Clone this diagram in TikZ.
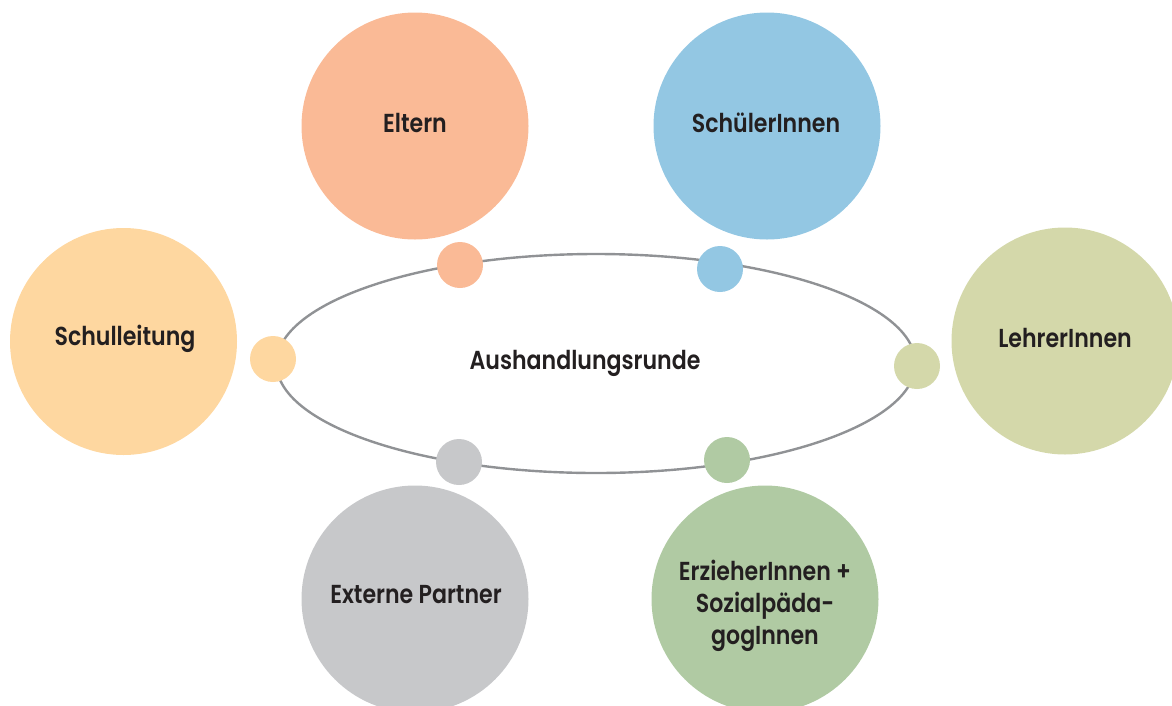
\documentclass[tikz,border=0pt]{standalone}
\usepackage{fontspec}
\setmainfont{Poppins}[UprightFont={* SemiBold}, FakeStretch=0.85]
\usetikzlibrary{shapes.geometric}
\definecolor{celtern}{HTML}{FABA96}
\definecolor{cschueler}{HTML}{93C7E3}
\definecolor{cleitung}{HTML}{FED7A0}
\definecolor{clehrer}{HTML}{D4D8AA}
\definecolor{cextern}{HTML}{C7C8CA}
\definecolor{cerzieher}{HTML}{B0CAA3}
\definecolor{cring}{HTML}{909295}
\definecolor{ctxt}{HTML}{231F20}
\begin{document}
\begin{tikzpicture}[x=1pt,y=-1pt,
  big/.style={circle, minimum size=227pt, inner sep=0pt, fill=#1},
  small/.style={circle, minimum size=46pt, inner sep=0pt, fill=#1},
  lbl/.style={align=center, text=ctxt, inner sep=0pt, font=\fontsize{26}{32}\selectfont},
  ringstyle/.style={ellipse, draw=cring, line width=2.4pt, minimum width=639pt, minimum height=219pt, inner sep=0pt}
]
\useasboundingbox (0,0) rectangle (1172,705);
% big circles
\node[big=celtern]   (eltern)   at (415,126) {};
\node[big=cschueler] (schueler) at (767,126) {};
\node[big=cleitung]  (leitung)  at (123.5,341.5) {};
\node[big=clehrer]   (lehrer)   at (1065,341) {};
\node[big=cextern]   (extern)   at (415,599) {};
\node[big=cerzieher] (erzieher) at (765,599) {};
% ring
\node[ringstyle] (ring) at (596,363.5) {};
% small circles
\node[small=celtern]   (seltern)   at (460,265) {};
\node[small=cschueler] (sschueler) at (720,269) {};
\node[small=cleitung]  (sleitung)  at (273,359) {};
\node[small=clehrer]   (slehrer)   at (917,366) {};
\node[small=cextern]   (sextern)   at (459,462) {};
\node[small=cerzieher] (serzieher) at (727,460) {};
% labels
\node[lbl] (teltern)   at (415,123) {Eltern};
\node[lbl] (tschueler) at (766,123) {SchülerInnen};
\node[lbl] (tleitung)  at (125,339) {Schulleitung};
\node[lbl] (tlehrer)   at (1065,338) {LehrerInnen};
\node[lbl] (textern)   at (416,595) {Externe Partner};
\node[lbl] (terzieher) at (765,606) {ErzieherInnen +\\Sozialpäda-\\gogInnen};
\node[lbl] (tring)     at (585,363) {Aushandlungsrunde};
\end{tikzpicture}
\end{document}
